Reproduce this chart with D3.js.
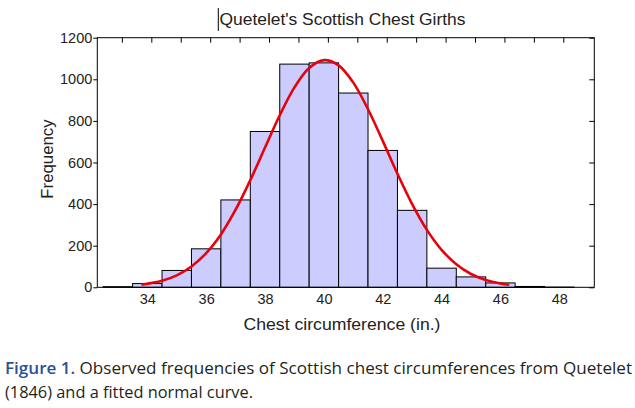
<!DOCTYPE html>
<html>
<head>
<meta charset="utf-8">
<script src="https://cdn.jsdelivr.net/npm/d3@7"></script>
<style>
  html, body { margin: 0; padding: 0; background: #fff; }
  svg { display: block; }
</style>
</head>
<body>
<div id="chart"></div>
<script>
// chest circumference bins (inches) and counts of Scottish soldiers
var chestSizes = [33, 34, 35, 36, 37, 38, 39, 40, 41, 42, 43, 44, 45, 46, 47, 48];
var counts = [3, 18, 81, 185, 420, 749, 1073, 1079, 934, 658, 370, 92, 50, 21, 4, 1];

// fitted normal curve
var curveX = [33.8, 34.5, 35, 35.5, 36, 36.5, 37, 37.5, 38, 38.5, 39, 39.5, 40,
  40.5, 41, 41.5, 42, 42.5, 43, 43.5, 44, 44.5, 45, 45.5, 46, 46.3];
var curveY = [12, 31, 57, 100, 164, 254, 373, 515, 672, 827, 961, 1054, 1092,
  1067, 984, 856, 704, 546, 400, 276, 180, 111, 64, 35, 18, 12];

var xTicks = [34, 36, 38, 40, 42, 44, 46, 48];
var xMinorTicks = [33, 34, 35, 36, 37, 38, 39, 40, 41, 42, 43, 44, 45, 46, 47, 48];
var yTicks = [0, 200, 400, 600, 800, 1000, 1200];

var titleText = "Quetelet's Scottish Chest Girths";
var xLabel = 'Chest circumference (in.)';
var yLabel = 'Frequency';

(function() {
  'use strict';

  var W = 635, H = 408;
  var m = {left: 97.3, right: 594.3, top: 37.7, bottom: 287.3};
  var font = '"Liberation Sans", Arial, sans-serif';

  var svg = d3.select('#chart').append('svg')
    .attr('width', W)
    .attr('height', H);

  var x = d3.scaleLinear().domain([32.3, 49.19]).range([m.left, m.right]);
  var y = d3.scaleLinear().domain([0, 1200]).range([m.bottom, m.top]);

  // bars
  var binW = 1;
  svg.append('g').selectAll('rect')
    .data(counts)
    .enter().append('rect')
    .attr('x', function(d, i) { return x(chestSizes[i] - binW / 2); })
    .attr('y', function(d) { return y(d); })
    .attr('width', function(d, i) { return x(chestSizes[i] + binW / 2) - x(chestSizes[i] - binW / 2); })
    .attr('height', function(d) { return y(0) - y(d); })
    .attr('fill', '#ccccff')
    .attr('stroke', '#000')
    .attr('stroke-width', 1);

  // normal curve
  var line = d3.line()
    .x(function(d, i) { return x(curveX[i]); })
    .y(function(d) { return y(d); })
    .curve(d3.curveCatmullRom);

  svg.append('path')
    .datum(curveY)
    .attr('d', line)
    .attr('fill', 'none')
    .attr('stroke', '#e8000b')
    .attr('stroke-width', 2.6);

  // axes
  var gy = svg.append('g').attr('transform', 'translate(' + m.left + ',0)')
    .call(d3.axisLeft(y).tickValues(yTicks).tickSize(4).tickPadding(1).tickFormat(d3.format('d')));
  gy.select('.domain').remove();

  var gyr = svg.append('g').attr('transform', 'translate(' + m.right + ',0)')
    .call(d3.axisLeft(y).tickValues(yTicks).tickSize(5).tickFormat(''));
  gyr.select('.domain').remove();
  gyr.selectAll('.tick line').attr('x2', -5);

  var gx = svg.append('g').attr('transform', 'translate(0,' + m.bottom + ')')
    .call(d3.axisBottom(x).tickValues(xTicks).tickSize(0).tickFormat(d3.format('d')));
  gx.select('.domain').remove();
  gx.selectAll('text').attr('dy', null).attr('y', 17);

  var gxt = svg.append('g').attr('transform', 'translate(4,' + m.top + ')')
    .call(d3.axisBottom(x).tickValues(xMinorTicks).tickSize(5).tickFormat(''));
  gxt.select('.domain').remove();

  svg.selectAll('.tick line').attr('stroke', '#000');
  svg.selectAll('.tick text')
    .style('font-family', font)
    .style('font-size', '14.5px')
    .style('fill', '#222');

  // box
  svg.append('rect')
    .attr('x', m.left).attr('y', m.top)
    .attr('width', m.right - m.left).attr('height', m.bottom - m.top)
    .attr('fill', 'none')
    .attr('stroke', '#000')
    .attr('stroke-width', 1);

  // labels
  svg.append('text')
    .attr('x', 219.5).attr('y', 25)
    .attr('textLength', 246)
    .attr('lengthAdjust', 'spacingAndGlyphs')
    .style('font-family', font)
    .style('font-size', '16.5px')
    .style('fill', '#222')
    .text(titleText);

  // stray text cursor left in the title
  svg.append('line')
    .attr('x1', 218.3).attr('x2', 218.3)
    .attr('y1', 8).attr('y2', 31)
    .attr('stroke', '#000').attr('stroke-width', 1);

  svg.append('text')
    .attr('x', 243.5).attr('y', 330)
    .attr('textLength', 197)
    .attr('lengthAdjust', 'spacingAndGlyphs')
    .style('font-family', font)
    .style('font-size', '16.5px')
    .style('fill', '#222')
    .text(xLabel);

  svg.append('text')
    .attr('transform', 'translate(52.5,159) rotate(-90)')
    .attr('text-anchor', 'middle')
    .style('font-family', font)
    .style('font-size', '16.8px')
    .style('fill', '#222')
    .text(yLabel);

  // caption
  var capFont = '"Open Sans", "Noto Sans", sans-serif';
  var cap1 = svg.append('text')
    .attr('x', 5).attr('y', 374.3)
    .attr('textLength', 627)
    .attr('lengthAdjust', 'spacingAndGlyphs')
    .style('font-family', capFont)
    .style('font-size', '16px')
    .style('fill', '#231f20');
  cap1.append('tspan').style('fill', '#2a4f96').style('font-weight', 600).text('Figure 1.');
  cap1.append('tspan').text('  Observed frequencies of Scottish chest circumferences from Quetelet');

  svg.append('text')
    .attr('x', 5).attr('y', 398)
    .attr('textLength', 248)
    .attr('lengthAdjust', 'spacingAndGlyphs')
    .style('font-family', capFont)
    .style('font-size', '16px')
    .style('fill', '#231f20')
    .text('(1846) and a fitted normal curve.');
})();
</script>
</body>
</html>
